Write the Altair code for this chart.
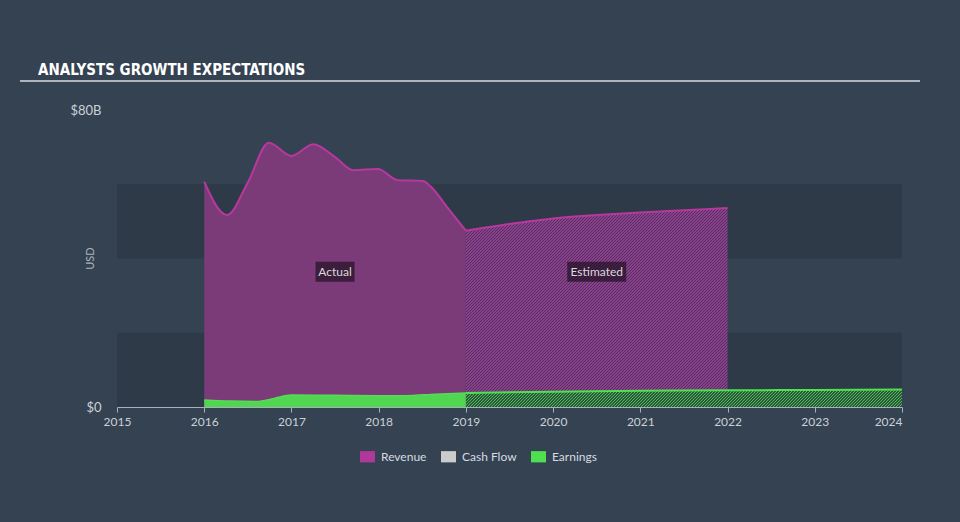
import altair as alt
import pandas as pd

# ---------------- data (values in billions USD) ----------------
rev_act_years = [2016.0, 2016.26, 2016.5, 2016.74, 2017.0, 2017.25, 2017.5, 2017.71,
                 2017.99, 2018.22, 2018.51, 2018.6, 2018.78, 2019.0]
rev_act_vals = [60.7, 51.7, 60.5, 71.2, 67.6, 70.8, 67.3, 63.8,
                64.1, 61.1, 60.9, 59.3, 54.0, 47.5]

rev_est_years = [2019.0, 2019.5, 2020.0, 2020.5, 2021.0, 2021.5, 2022.0]
rev_est_vals = [47.5, 49.3, 50.8, 51.7, 52.4, 53.0, 53.6]

earn_act_years = [2016.0, 2016.3, 2016.6, 2016.8, 2017.0, 2017.5, 2018.0, 2018.3, 2018.65, 2019.0]
earn_act_vals = [1.9, 1.6, 1.5, 2.3, 3.2, 3.15, 3.05, 3.05, 3.45, 3.8]

earn_est_years = [2019.0, 2020.0, 2021.0, 2022.0, 2023.0, 2024.0]
earn_est_vals = [3.8, 4.1, 4.35, 4.5, 4.6, 4.7]

label_texts = ["Actual", "Estimated"]
label_years = [2017.5, 2020.5]
label_vals = [36.4, 36.4]

band_lo = [0, 40]
band_hi = [20, 60]

x_ticks = [2015, 2016, 2017, 2018, 2019, 2020, 2021, 2022, 2023, 2024]
y_ticks = [0, 80]

legend_names = ["Revenue", "Cash Flow", "Earnings"]
legend_colors = ["#b0389a", "#cccccc", "#4fe04f"]

title_text = "ANALYSTS GROWTH EXPECTATIONS"

# ---------------- layout ----------------
W, H = 785, 297
X_MIN, X_MAX = 2015, 2024
Y_MAX = 80
BG = "#344252"
BAND = "#2e3a48"
FONT = "Lato"
TITLE_FONT = "Liberation Sans Narrow, Arial Narrow, DejaVu Sans Condensed, Roboto, sans-serif"

rev_act = pd.DataFrame({"year": rev_act_years, "value": rev_act_vals})
rev_est = pd.DataFrame({"year": rev_est_years, "value": rev_est_vals})
earn_act = pd.DataFrame({"year": earn_act_years, "value": earn_act_vals})
earn_est = pd.DataFrame({"year": earn_est_years, "value": earn_est_vals})
labels = pd.DataFrame({"year": label_years, "value": label_vals, "text": label_texts})
bands = pd.DataFrame({"lo": band_lo, "hi": band_hi})

px_year = W / (X_MAX - X_MIN)
px_val = H / Y_MAX


def hatch(light, dark, years, vals, period=3.0, duty=0.5):
    """Diagonal stripe fill built as a linear gradient over the mark's bounding box."""
    w = (max(years) - min(years)) * px_year
    h = max(vals) * px_val
    a = w * (w + h) / (w * w + h * h)
    n = (w + h) / period
    stops = []
    k = 0
    while k < n:
        o0 = k / n
        o1 = min((k + duty) / n, 1.0)
        o2 = min((k + 1) / n, 1.0)
        stops += [
            alt.GradientStop(offset=o0, color=light),
            alt.GradientStop(offset=o1, color=light),
            alt.GradientStop(offset=o1, color=dark),
            alt.GradientStop(offset=o2, color=dark),
        ]
        k += 1
    return alt.LinearGradient(gradient="linear", stops=stops, x1=0, y1=0, x2=a, y2=a * h / w)


x_scale = alt.Scale(domain=[X_MIN, X_MAX], nice=False, zero=False)
y_scale = alt.Scale(domain=[0, Y_MAX], nice=False)

x_axis = alt.Axis(
    values=x_ticks, format="d", title=None, grid=False, labelFlush=False,
    domainColor="#a7b1bd", tickColor="#a7b1bd", tickSize=5, domainWidth=1,
    labelColor="#cbd1d7", labelFont=FONT, labelFontSize=12, labelPadding=4,
    labelAlign=alt.expr("datum.value == 2024 ? 'right' : 'center'"),
)
y_axis = alt.Axis(
    values=y_ticks, title="USD", grid=False, domain=False, ticks=False,
    labelExpr="datum.value == 0 ? '$0' : '$' + datum.value + 'B'",
    labelColor="#cbd1d7", labelFont=FONT, labelFontSize=13, labelPadding=16,
    titleColor="#aab3bd", titleFont=FONT, titleFontSize=11, titleFontWeight="normal",
    titleX=-22, titleY=148,
)

X = alt.X("year:Q", scale=x_scale, axis=x_axis)
Y = alt.Y("value:Q", scale=y_scale, axis=y_axis)

band_layer = alt.Chart(bands).mark_rect(color=BAND).encode(
    x=alt.value(0), x2=alt.value(W),
    y=alt.Y("lo:Q", scale=y_scale, axis=y_axis), y2="hi:Q",
)

rev_act_area = alt.Chart(rev_act).mark_area(
    interpolate="monotone", color="#7b3a78"
).encode(x=X, y=Y)
rev_est_area = alt.Chart(rev_est).mark_area(
    interpolate="monotone",
    fill=hatch("#8a408c", "#52305b", rev_est_years, rev_est_vals),
).encode(x=X, y=Y)
rev_act_line = alt.Chart(rev_act).mark_line(
    interpolate="monotone", color="#b8389e", strokeWidth=2
).encode(x=X, y=Y)
rev_est_line = alt.Chart(rev_est).mark_line(
    interpolate="monotone", color="#b8389e", strokeWidth=2
).encode(x=X, y=Y)

earn_act_area = alt.Chart(earn_act).mark_area(
    interpolate="monotone", color="#50d650"
).encode(x=X, y=Y)
earn_est_area = alt.Chart(earn_est).mark_area(
    interpolate="monotone",
    fill=hatch("#48c048", "#2f5544", earn_est_years, earn_est_vals),
).encode(x=X, y=Y)
earn_act_line = alt.Chart(earn_act).mark_line(
    interpolate="monotone", color="#55dd55", strokeWidth=1.5
).encode(x=X, y=Y)
earn_est_line = alt.Chart(earn_est).mark_line(
    interpolate="monotone", color="#4fe04f", strokeWidth=2
).encode(x=X, y=Y)

box_actual = alt.Chart(labels.iloc[[0]]).mark_rect(
    width=39, height=20, color="black", opacity=0.5
).encode(x=X, y=Y)
box_est = alt.Chart(labels.iloc[[1]]).mark_rect(
    width=59, height=20, color="black", opacity=0.5
).encode(x=X, y=Y)
label_text = alt.Chart(labels).mark_text(
    font=FONT, fontSize=12, color="#dadada"
).encode(x=X, y=Y, text="text:N")

legend_layer = alt.Chart(pd.DataFrame({"series": legend_names})).mark_square(
    size=0, opacity=0
).encode(
    color=alt.Color(
        "series:N",
        scale=alt.Scale(domain=legend_names, range=legend_colors),
        legend=alt.Legend(
            title=None, orient="none", legendX=243, legendY=339,
            direction="horizontal", symbolType="M-1,-0.75H1V0.75H-1Z",
            symbolSize=225, symbolOpacity=1, symbolStrokeWidth=0,
            labelFont=FONT, labelFontSize=12, labelColor="#d6dbe0",
            labelOffset=6, columnPadding=14,
        ),
    )
)

title_layer = alt.Chart(pd.DataFrame({"t": [title_text]})).mark_text(
    font=TITLE_FONT, fontWeight="bold", fontSize=15,
    color="#ffffff", align="left", baseline="alphabetic",
).encode(x=alt.value(-79), y=alt.value(-35), text="t:N")

underline = alt.Chart(pd.DataFrame({"t": [0]})).mark_rule(
    color="#aeb5bd", strokeWidth=2
).encode(x=alt.value(-97), x2=alt.value(803), y=alt.value(-29))

chart = alt.layer(
    band_layer,
    rev_act_area, rev_est_area, rev_act_line, rev_est_line,
    earn_act_area, earn_est_area, earn_act_line, earn_est_line,
    box_actual, box_est, label_text,
    legend_layer, title_layer, underline,
).properties(
    width=W, height=H,
    padding={"left": 117, "top": 110, "right": 58, "bottom": 115},
    autosize=alt.AutoSizeParams(type="none"),
    background=BG,
).configure_view(stroke=None)

chart.save("out.html", embed_options={"renderer": "svg", "actions": False})
